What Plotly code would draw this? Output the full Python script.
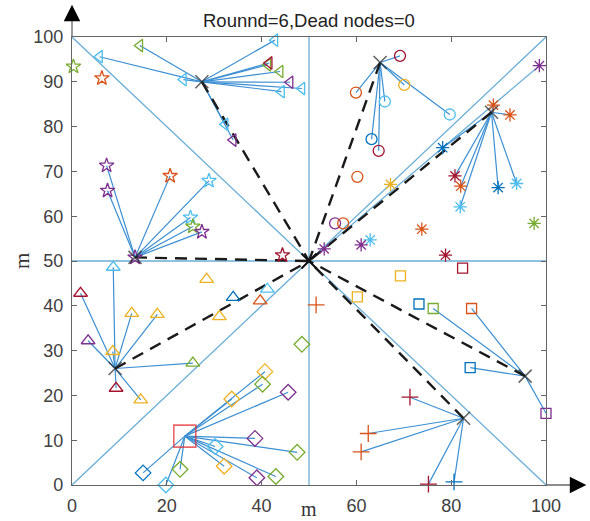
import plotly.graph_objects as go

# MATLAB-like palette
PAL = {'blue': '#0072BD', 'orange': '#D95319', 'yellow': '#EDB120', 'purple': '#7E2F8E',
       'green': '#77AC30', 'cyan': '#4DBEEE', 'red': '#A2142F'}

TITLE = "Rounnd=6,Dead nodes=0"
x_ticks = [0, 20, 40, 60, 80, 100]
y_ticks = [0, 10, 20, 30, 40, 50, 60, 70, 80, 90, 100]

# base station
bs_x, bs_y = 50, 50

# cluster heads
ch_x = [27.4, 13.3, 65.0, 88.5, 9.1, 23.8, 95.6, 82.6]
ch_y = [90.0, 50.8, 94.3, 83.2, 26.0, 10.9, 24.3, 14.9]
ch_to_bs = [1, 1, 1, 1, 1, 0, 1, 1]

# cluster 1: triangle-left
c1_x = [14.3, 5.8, 23.5, 42.8, 41.3, 41.6, 43.9, 46.0, 44.2, 48.5, 32.3, 34.0]
c1_y = [98.1, 95.6, 90.5, 99.3, 93.8, 94.2, 92.3, 89.9, 87.8, 88.5, 80.5, 77.0]
c1_c = ['green', 'cyan', 'cyan', 'cyan', 'green', 'red', 'green', 'purple', 'cyan', 'cyan', 'cyan', 'purple']
c1_l = [1, 1, 1, 1, 1, 1, 1, 1, 1, 1, 1, 1]

# cluster 2: star
c2_x = [0.3, 6.3, 7.3, 7.5, 20.7, 28.9, 25.0, 25.5, 27.4, 44.4, 13.3]
c2_y = [93.4, 90.8, 71.3, 65.7, 69.0, 67.9, 59.7, 57.7, 56.5, 51.3, 50.8]
c2_c = ['green', 'orange', 'purple', 'purple', 'orange', 'cyan', 'cyan', 'green', 'purple', 'red', 'purple']
c2_l = [0, 0, 1, 1, 1, 1, 1, 1, 1, 0, 0]

# cluster 3: circle
c3_x = [69.2, 59.9, 70.1, 66.0, 79.7, 63.2, 64.7, 60.2, 55.5, 57.2]
c3_y = [95.8, 87.6, 89.3, 85.6, 82.7, 77.2, 74.6, 68.8, 58.4, 58.4]
c3_c = ['red', 'orange', 'yellow', 'cyan', 'cyan', 'blue', 'red', 'orange', 'purple', 'orange']
c3_l = [1, 1, 1, 1, 1, 1, 1, 0, 0, 0]

# cluster 4: asterisk (link 2 = direct to base station)
c4_x = [88.9, 92.4, 78.2, 80.8, 82.0, 81.9, 89.9, 93.8, 97.5, 73.8, 67.2, 62.9, 61.0, 53.2, 78.8, 98.6]
c4_y = [84.8, 82.6, 75.3, 69.0, 66.7, 62.1, 66.4, 67.3, 58.4, 57.1, 67.1, 54.7, 53.6, 52.7, 51.3, 93.6]
c4_c = ['orange', 'orange', 'blue', 'red', 'orange', 'cyan', 'blue', 'cyan', 'green', 'orange',
        'yellow', 'cyan', 'purple', 'purple', 'red', 'purple']
c4_l = [1, 1, 1, 1, 1, 1, 1, 1, 0, 0, 0, 0, 0, 0, 0, 2]

# cluster 5: triangle-up
c5_x = [8.7, 1.8, 12.6, 18.0, 3.4, 8.6, 9.3, 14.5, 25.5, 28.4, 34.0, 31.1, 41.2, 39.7]
c5_y = [48.6, 42.8, 38.3, 38.1, 32.2, 29.8, 21.6, 19.0, 27.2, 45.9, 41.9, 37.6, 43.7, 41.1]
c5_c = ['cyan', 'red', 'yellow', 'yellow', 'purple', 'yellow', 'red', 'yellow', 'green', 'yellow',
        'blue', 'yellow', 'cyan', 'orange']
c5_l = [1, 1, 1, 1, 1, 1, 1, 1, 1, 0, 0, 0, 0, 0]

# cluster 6: diamond
c6_x = [48.5, 40.7, 40.2, 45.6, 33.7, 38.6, 47.5, 30.2, 32.1, 43.0, 39.0, 15.0, 22.8, 19.8]
c6_y = [31.4, 25.3, 22.5, 20.7, 19.2, 10.4, 7.3, 8.6, 4.2, 1.9, 1.6, 2.7, 3.5, 0.0]
c6_c = ['green', 'yellow', 'green', 'purple', 'yellow', 'purple', 'green', 'cyan', 'yellow', 'green',
        'purple', 'blue', 'green', 'cyan']
c6_l = [0, 1, 1, 1, 1, 1, 1, 1, 1, 1, 1, 1, 1, 1]

# cluster 7: square
c7_x = [82.4, 69.3, 60.2, 73.2, 76.2, 84.3, 84.0, 100.0]
c7_y = [48.4, 46.7, 42.0, 40.4, 39.4, 39.4, 26.2, 16.0]
c7_c = ['red', 'yellow', 'yellow', 'blue', 'green', 'orange', 'blue', 'purple']
c7_l = [0, 0, 0, 0, 1, 1, 1, 1]

# cluster 8: plus
c8_x = [51.5, 71.3, 62.5, 61.0, 75.2, 80.6]
c8_y = [40.2, 19.6, 11.5, 7.4, 0.2, 0.7]
c8_c = ['orange', 'red', 'orange', 'orange', 'red', 'blue']
c8_l = [0, 1, 1, 1, 1, 1]

clusters = [
    (c1_x, c1_y, c1_c, c1_l, 'triangle-left-open', 11),
    (c2_x, c2_y, c2_c, c2_l, 'star-open', 11),
    (c3_x, c3_y, c3_c, c3_l, 'circle-open', 11),
    (c4_x, c4_y, c4_c, c4_l, 'asterisk-open', 11),
    (c5_x, c5_y, c5_c, c5_l, 'triangle-up-open', 12),
    (c6_x, c6_y, c6_c, c6_l, 'diamond-open', 12),
    (c7_x, c7_y, c7_c, c7_l, 'square-open', 10),
    (c8_x, c8_y, c8_c, c8_l, 'cross-thin-open', 12),
]

fig = go.Figure()

# partition lines
PART = '#6aaed6'
part_x = [0, 100, None, 0, 100, None, 50, 50, None, 0, 100]
part_y = [0, 100, None, 100, 0, None, 0, 100, None, 50, 50]
fig.add_trace(go.Scatter(x=part_x, y=part_y, mode='lines', line=dict(color=PART, width=1.3),
                         hoverinfo='skip', showlegend=False))

# member links
lx, ly = [], []
dx, dy = [], []
for i, (xs, ys, cs, ls, sym, sz) in enumerate(clusters):
    for x, y, l in zip(xs, ys, ls):
        if l == 1:
            lx += [ch_x[i], x, None]
            ly += [ch_y[i], y, None]
        elif l == 2:
            dx += [bs_x, x, None]
            dy += [bs_y, y, None]
fig.add_trace(go.Scatter(x=dx, y=dy, mode='lines', line=dict(color=PART, width=1.3),
                         hoverinfo='skip', showlegend=False))
fig.add_trace(go.Scatter(x=lx, y=ly, mode='lines', line=dict(color='#3b8fd2', width=1.2),
                         hoverinfo='skip', showlegend=False))

# CH -> BS dashed
bx, by = [], []
for x, y, f in zip(ch_x, ch_y, ch_to_bs):
    if f:
        bx += [x, bs_x, None]
        by += [y, bs_y, None]
fig.add_trace(go.Scatter(x=bx, y=by, mode='lines', line=dict(color='#1a1a1a', width=2.4, dash='12px,8px'),
                         hoverinfo='skip', showlegend=False))

# node markers
for xs, ys, cs, ls, sym, sz in clusters:
    fig.add_trace(go.Scatter(x=xs, y=ys, mode='markers', cliponaxis=False,
                             marker=dict(symbol=sym, size=sz, color=[PAL[c] for c in cs],
                                         line=dict(width=1.3, color=[PAL[c] for c in cs])),
                             hoverinfo='skip', showlegend=False))

# cluster heads
ch_sym = ['x-thin-open' if f else 'square-open' for f in ch_to_bs]
ch_col = ['#222222' if f else '#e0262b' for f in ch_to_bs]
ch_sz = [13 if f else 22 for f in ch_to_bs]
fig.add_trace(go.Scatter(x=ch_x, y=ch_y, mode='markers', cliponaxis=False,
                         marker=dict(symbol=ch_sym, size=ch_sz, color=ch_col,
                                     line=dict(width=1.6, color=ch_col)),
                         hoverinfo='skip', showlegend=False))

# base station
fig.add_trace(go.Scatter(x=[bs_x], y=[bs_y], mode='markers', cliponaxis=False,
                         marker=dict(symbol='x-thin-open', size=15, color='#111',
                                     line=dict(width=2, color='#111')),
                         hoverinfo='skip', showlegend=False))

AX = '#666666'
axis_common = dict(showgrid=False, zeroline=False, showline=True, linecolor=AX, linewidth=1.3,
                   mirror='allticks', ticks='inside', ticklen=5, tickcolor=AX, ticklabelstandoff=4,
                   automargin=False,
                   tickfont=dict(family='Arial, Liberation Sans', size=18, color='#404040'))
fig.update_layout(
    width=590, height=521,
    margin=dict(l=72, r=44, t=37, b=36, autoexpand=False),
    paper_bgcolor='white', plot_bgcolor='white',
    xaxis=dict(range=[0, 100], tickvals=x_ticks, **axis_common),
    yaxis=dict(range=[0, 100], tickvals=y_ticks, **axis_common),
    showlegend=False,
)

# axis arrows
fig.add_shape(type='line', xref='paper', yref='paper', x0=1, x1=1.07, y0=0, y1=0,
              line=dict(color=AX, width=1.3))
fig.add_shape(type='line', xref='paper', yref='paper', x0=0, x1=0, y0=1, y1=1.06,
              line=dict(color=AX, width=1.3))
fig.add_annotation(xref='paper', yref='paper', x=1.085, y=0, ax=-14, ay=0, text='',
                   showarrow=True, arrowhead=2, arrowsize=2.2, arrowwidth=1.5, arrowcolor='black')
fig.add_annotation(xref='paper', yref='paper', x=0, y=1.072, ax=0, ay=14, text='',
                   showarrow=True, arrowhead=2, arrowsize=2.2, arrowwidth=1.5, arrowcolor='black')

# title and axis labels
fig.add_annotation(xref='paper', yref='paper', x=0.5, y=1.0, yshift=17, yanchor='middle', xanchor='center',
                   text=TITLE, showarrow=False,
                   font=dict(family='Arial, Liberation Sans', size=18.5, color='#222'))
fig.add_annotation(xref='paper', yref='paper', x=0.5, y=0, yshift=-35.5, yanchor='bottom', xanchor='center',
                   text='m', showarrow=False, borderpad=0,
                   font=dict(family='Liberation Serif, Times New Roman', size=20, color='#333'))
fig.add_annotation(xref='paper', yref='paper', x=0, xshift=-50, y=0.5, yanchor='middle', xanchor='center',
                   text='m', textangle=-90, showarrow=False,
                   font=dict(family='Liberation Serif, Times New Roman', size=21, color='#333'))

fig.write_html("out.html")
